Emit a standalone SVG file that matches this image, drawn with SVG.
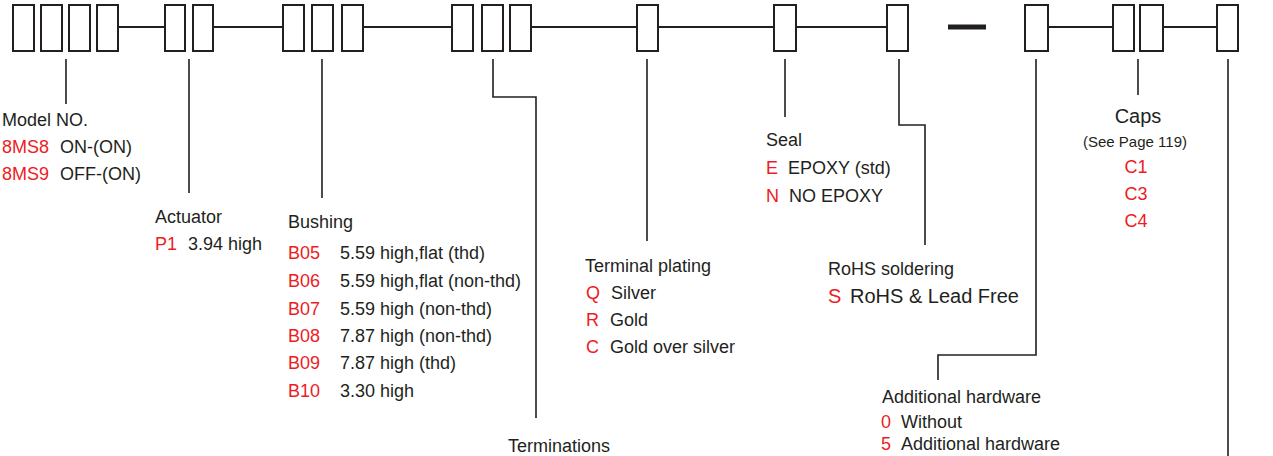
<svg xmlns="http://www.w3.org/2000/svg" width="1273" height="456" viewBox="0 0 1273 456">
<style>
.box{fill:#fff;stroke:#231f20;stroke-width:2}
.ln{fill:none;stroke:#231f20;stroke-width:2}
.c{fill:none;stroke:#231f20;stroke-width:1.6}
text{font-family:"Liberation Sans",Arial,sans-serif;font-size:18px;fill:#231f20}
.r{fill:#ed1c24}
</style>
<rect width="1273" height="456" fill="#fff"/>
<g id="code-bar">
<path class="ln" d="M118 27H165M213 27H283M363 27H452M531 27H637M658 27H774M796 27H887M1048 27H1113M1163 27H1217"/>
<path d="M948 27H986" stroke="#231f20" stroke-width="5"/>
<rect class="box" x="13" y="5" width="21" height="46"/>
<rect class="box" x="41" y="5" width="21" height="46"/>
<rect class="box" x="69" y="5" width="21" height="46"/>
<rect class="box" x="97" y="5" width="21" height="46"/>
<rect class="box" x="165" y="5" width="20" height="46"/>
<rect class="box" x="193" y="5" width="20" height="46"/>
<rect class="box" x="283" y="5" width="21" height="46"/>
<rect class="box" x="312" y="5" width="21" height="46"/>
<rect class="box" x="342" y="5" width="21" height="46"/>
<rect class="box" x="452" y="5" width="21" height="46"/>
<rect class="box" x="482" y="5" width="21" height="46"/>
<rect class="box" x="510" y="5" width="21" height="46"/>
<rect class="box" x="637" y="5" width="21" height="46"/>
<rect class="box" x="774" y="5" width="22" height="46"/>
<rect class="box" x="887" y="5" width="21" height="46"/>
<rect class="box" x="1025" y="5" width="23" height="46"/>
<rect class="box" x="1113" y="5" width="21" height="46"/>
<rect class="box" x="1140" y="5" width="23" height="46"/>
<rect class="box" x="1217" y="5" width="21" height="46"/>
</g>
<g id="connectors">
<path class="c" d="M66 59V104"/>
<path class="c" d="M189 59V193"/>
<path class="c" d="M322 59V198"/>
<path class="c" d="M493 59V97H536V418"/>
<path class="c" d="M647 59V241"/>
<path class="c" d="M785 59V117"/>
<path class="c" d="M899 59V125H925V245"/>
<path class="c" d="M1036 59V355H938V380"/>
<path class="c" d="M1138 59V95"/>
<path class="c" d="M1228 59V456"/>
</g>
<g id="model">
<text x="2" y="126">Model NO.</text>
<text x="2" y="153" class="r">8MS8</text><text x="60" y="153">ON-(ON)</text>
<text x="2" y="180" class="r">8MS9</text><text x="60" y="180">OFF-(ON)</text>
</g>
<g id="actuator">
<text x="155" y="223">Actuator</text>
<text x="155" y="250" class="r">P1</text><text x="188" y="250">3.94 high</text>
</g>
<g id="bushing">
<text x="288" y="228">Bushing</text>
<text x="288" y="259" class="r">B05</text><text x="340" y="259">5.59 high,flat (thd)</text>
<text x="288" y="287" class="r">B06</text><text x="340" y="287">5.59 high,flat (non-thd)</text>
<text x="288" y="315" class="r">B07</text><text x="340" y="315">5.59 high (non-thd)</text>
<text x="288" y="342" class="r">B08</text><text x="340" y="342">7.87 high (non-thd)</text>
<text x="288" y="369" class="r">B09</text><text x="340" y="369">7.87 high (thd)</text>
<text x="288" y="397" class="r">B10</text><text x="340" y="397">3.30 high</text>
</g>
<g id="terminations">
<text x="508" y="452">Terminations</text>
</g>
<g id="plating">
<text x="585" y="272">Terminal plating</text>
<text x="586" y="299" class="r">Q</text><text x="611" y="299">Silver</text>
<text x="586" y="326" class="r">R</text><text x="610" y="326">Gold</text>
<text x="586" y="353" class="r">C</text><text x="610" y="353">Gold over silver</text>
</g>
<g id="seal">
<text x="766" y="146">Seal</text>
<text x="766" y="174" class="r">E</text><text x="788" y="174">EPOXY (std)</text>
<text x="766" y="202" class="r">N</text><text x="789" y="202">NO EPOXY</text>
</g>
<g id="rohs">
<text x="828" y="275">RoHS soldering</text>
<text x="828" y="303" class="r" style="font-size:20px">S</text><text x="850" y="303" style="font-size:20px">RoHS &amp; Lead Free</text>
</g>
<g id="hardware">
<text x="882" y="403">Additional hardware</text>
<text x="881" y="428" class="r">0</text><text x="901" y="428">Without</text>
<text x="881" y="450" class="r">5</text><text x="901" y="450">Additional hardware</text>
</g>
<g id="caps" text-anchor="middle">
<text x="1138" y="123" style="font-size:20px">Caps</text>
<text x="1135" y="147" style="font-size:15px">(See Page 119)</text>
<text x="1136" y="173" class="r">C1</text>
<text x="1136" y="200" class="r">C3</text>
<text x="1136" y="227" class="r">C4</text>
</g>
</svg>
